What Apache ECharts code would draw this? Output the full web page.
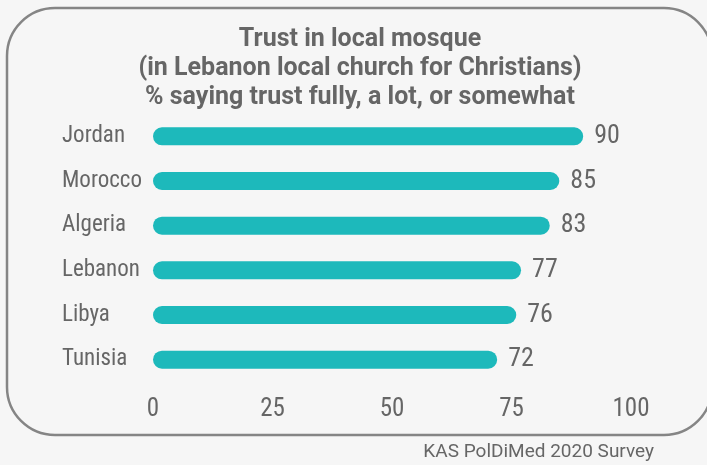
<!DOCTYPE html>
<html>
<head>
<meta charset="utf-8">
<script src="https://cdn.jsdelivr.net/npm/echarts@6/dist/echarts.min.js"></script>
<style>
  html, body { margin: 0; padding: 0; background: #f6f6f6; }
  #chart { width: 707px; height: 465px; }
</style>
</head>
<body>
<div id="chart"></div>
<script>
// Share trusting the local mosque (local church for Lebanese Christians)
const countries = ['Jordan', 'Morocco', 'Algeria', 'Lebanon', 'Libya', 'Tunisia'];
const trustShare = [90, 85, 83, 77, 76, 72];
const axisTicks = [0, 25, 50, 75, 100];

const titleLines = [
  'Trust in local mosque',
  '(in Lebanon local church for Christians)',
  '% saying trust fully, a lot, or somewhat'
];
const sourceNote = 'KAS PolDiMed 2020 Survey';

const narrow = '"Roboto Condensed", "DejaVu Sans Condensed", sans-serif';
const grey = '#666666';
const teal = '#1db9bb';

const chart = echarts.init(document.getElementById('chart'), null, { renderer: 'canvas' });

chart.setOption({
  backgroundColor: '#f6f6f6',
  animation: false,
  title: {
    text: titleLines.join('\n'),
    left: 355,
    textAlign: 'center',
    top: 20,
    textStyle: {
      fontFamily: 'Roboto, "Liberation Sans", sans-serif',
      fontWeight: 'bold',
      fontSize: 25,
      lineHeight: 29,
      color: grey
    }
  },
  graphic: [
    {
      type: 'rect',
      shape: { x: 7, y: 8, width: 705, height: 427, r: 48 },
      style: { fill: 'none', stroke: '#858585', lineWidth: 2.5 },
      silent: true,
      z: 0
    },
    {
      type: 'text',
      right: 53,
      top: 443,
      style: {
        text: sourceNote,
        fontFamily: 'Roboto, "Liberation Sans", sans-serif',
        fontSize: 19,
        fill: grey
      }
    }
  ],
  grid: {
    left: 153,
    width: 478,
    top: 114,
    height: 268
  },
  xAxis: {
    type: 'value',
    min: axisTicks[0],
    max: axisTicks[axisTicks.length - 1],
    interval: axisTicks[1] - axisTicks[0],
    splitLine: { show: false },
    axisLine: { show: false },
    axisTick: { show: false },
    axisLabel: {
      margin: 15,
      fontFamily: narrow,
      fontSize: 25,
      color: grey
    }
  },
  yAxis: {
    type: 'category',
    data: countries,
    inverse: true,
    axisLine: { show: false },
    axisTick: { show: false },
    axisLabel: {
      align: 'left',
      margin: 91,
      fontFamily: narrow,
      fontSize: 23,
      color: grey
    }
  },
  series: [
    {
      type: 'bar',
      data: trustShare,
      barWidth: 18,
      itemStyle: { color: teal, borderRadius: 9 },
      label: {
        show: true,
        position: 'right',
        distance: 11,
        fontFamily: narrow,
        fontSize: 26,
        color: grey
      }
    }
  ]
});
</script>
</body>
</html>
